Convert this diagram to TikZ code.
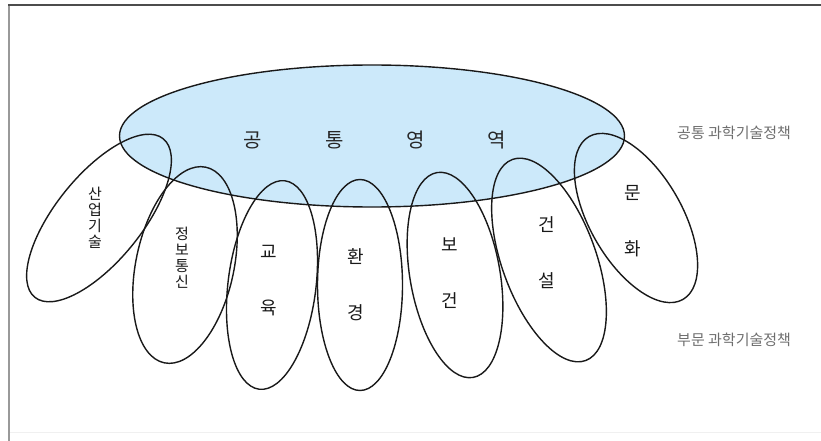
\documentclass[tikz,border=0pt]{standalone}
\usepackage{fontspec}
\usetikzlibrary{shapes.geometric}
\newfontfamily\kfont{Noto Sans CJK KR}
\definecolor{commonblue}{RGB}{204,233,250}
\definecolor{labelgray}{RGB}{110,110,110}

\begin{document}
\begin{tikzpicture}[x=1pt,y=-1pt]
    \tikzstyle{petal}=[draw=black!90,ellipse,line width=1.4pt,inner sep=0pt]
    \tikzstyle{word}=[font=\kfont\fontsize{18}{56}\selectfont,align=center,text=black!90,inner sep=0pt]
    \tikzstyle{stack}=[font=\kfont\fontsize{15}{16}\selectfont,align=center,text=black!90,inner sep=0pt]
    \tikzstyle{policy}=[font=\kfont\fontsize{15}{15}\selectfont,text=labelgray,anchor=west,inner sep=0pt]

    \useasboundingbox (0,0) rectangle (821,441);

    % frame
    \draw[black!40,line width=2pt] (9,441) -- (9,5);
    \draw[black!70,line width=1.5pt] (8,5) -- (821,5);
    \draw[black!6,line width=1pt] (10,432) -- (821,432);

    % common area
    \node[petal,fill=commonblue,minimum width=505pt,minimum height=142pt] (common) at (372,136) {};
    \node[font=\kfont\fontsize{20}{20}\selectfont,text=black!85,inner sep=0pt] (commontext) at (375,140)
        {공\hspace{63pt}통\hspace{63pt}영\hspace{63pt}역};

    % sector areas
    \node[petal,minimum width=204pt,minimum height=86pt,rotate=51] (sanup) at (99,218) {};
    \node[petal,minimum width=200pt,minimum height=98pt,rotate=78] (jeongbo) at (185,265) {};
    \node[petal,minimum width=210pt,minimum height=88pt,rotate=83] (gyoyuk) at (272,285) {};
    \node[petal,minimum width=211pt,minimum height=85pt,rotate=90] (hwangyeong) at (360,285) {};
    \node[petal,minimum width=208pt,minimum height=90pt,rotate=100] (bogeon) at (455,275) {};
    \node[petal,minimum width=214pt,minimum height=94pt,rotate=110] (geonseol) at (549,260) {};
    \node[petal,minimum width=188pt,minimum height=92pt,rotate=120] (munhwa) at (636,218) {};

    \node[stack] (sanuptext) at (95,218) {산\\업\\기\\술};
    \node[stack] (jeongbotext) at (182,258) {정\\보\\통\\신};
    \node[word] (gyoyuktext) at (269,281) {교\\육};
    \node[word] (hwangyeongtext) at (356,285) {환\\경};
    \node[word] (bogeontext) at (450,273) {보\\건};
    \node[word] (geonseoltext) at (547,253) {건\\설};
    \node[word] (munhwatext) at (633,221) {문\\화};

    % policy labels
    \node[policy] (commonpolicy) at (677,133) {공통 과학기술정책};
    \node[policy] (sectorpolicy) at (677,340) {부문 과학기술정책};
\end{tikzpicture}
\end{document}
